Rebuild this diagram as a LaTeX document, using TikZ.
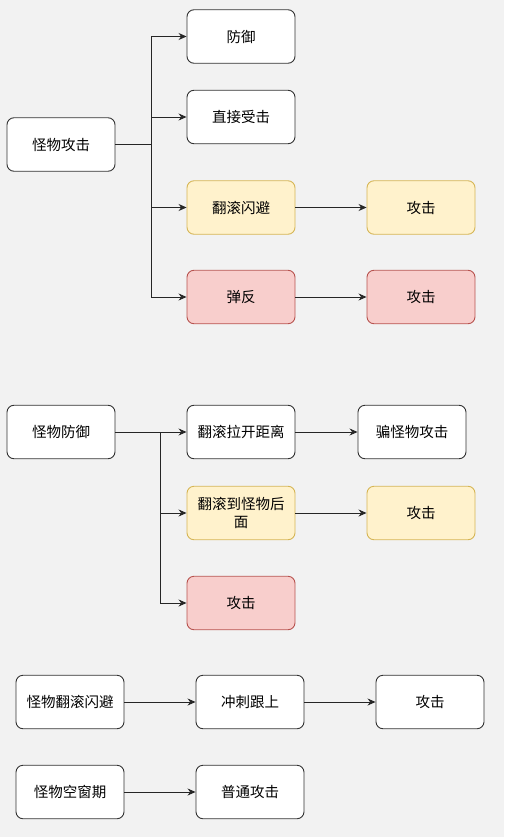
\documentclass[tikz,border=0pt]{standalone}
\usepackage{fontspec}
\setmainfont{Noto Sans CJK SC}
\usetikzlibrary{arrows.meta}
\definecolor{bg}{HTML}{F2F2F2}
\definecolor{edge}{HTML}{333333}
\definecolor{yfill}{HTML}{FFF2CC}
\definecolor{ydraw}{HTML}{D6B656}
\definecolor{rfill}{HTML}{F8CECC}
\definecolor{rdraw}{HTML}{B85450}
\tikzset{
  box/.style={draw=edge, fill=white, rounded corners=7pt, line width=0.9pt,
    minimum width=108pt, minimum height=53.5pt, inner sep=0pt, align=center,
    font=\fontsize{14.5}{18}\selectfont},
  ybox/.style={box, draw=ydraw, fill=yfill},
  rbox/.style={box, draw=rdraw, fill=rfill},
  arr/.style={draw=black!85, line width=0.9pt, -{Stealth[length=8pt,width=7pt]}},
  ln/.style={draw=black!85, line width=0.9pt}
}
\begin{document}
\begin{tikzpicture}[x=1pt,y=-1pt]
\fill[bg] (0,0) rectangle (504,837);
\useasboundingbox (0,0) rectangle (504,837);

% section 1
\node[box]  (A)   at (61,144.5) {怪物攻击};
\node[box]  (b1)  at (241,36.5) {防御};
\node[box]  (b2)  at (241,117) {直接受击};
\node[ybox] (b3)  at (241,207.5) {翻滚闪避};
\node[ybox] (b3a) at (421,207.5) {攻击};
\node[rbox] (b4)  at (241,297) {弹反};
\node[rbox] (b4a) at (421,297) {攻击};
\coordinate (j1) at (151,144.5);
\draw[ln] (A.east) -- (j1);
\draw[arr] (j1) |- (b1.west);
\draw[arr] (j1) |- (b2.west);
\draw[arr] (j1) |- (b3.west);
\draw[arr] (j1) |- (b4.west);
\draw[arr] (b3.east) -- (b3a.west);
\draw[arr] (b4.east) -- (b4a.west);

% section 2
\node[box]  (C)   at (61,432) {怪物防御};
\node[box]  (c1)  at (241,432) {翻滚拉开距离};
\node[box]  (c1a) at (412,432) {骗怪物攻击};
\node[ybox] (c2)  at (241,513) {翻滚到怪物后\\面};
\node[ybox] (c2a) at (421,513) {攻击};
\node[rbox] (c3)  at (241,603) {攻击};
\coordinate (j2) at (160,432);
\draw[ln] (C.east) -- (j2);
\draw[arr] (j2) -- (c1.west);
\draw[arr] (j2) |- (c2.west);
\draw[arr] (j2) |- (c3.west);
\draw[arr] (c1.east) -- (c1a.west);
\draw[arr] (c2.east) -- (c2a.west);

% section 3
\node[box] (D)  at (70,702) {怪物翻滚闪避};
\node[box] (d1) at (250,702) {冲刺跟上};
\node[box] (d2) at (430,702) {攻击};
\node[box] (E)  at (70,792) {怪物空窗期};
\node[box] (e1) at (250,792) {普通攻击};
\draw[arr] (D.east) -- (d1.west);
\draw[arr] (d1.east) -- (d2.west);
\draw[arr] (E.east) -- (e1.west);
\end{tikzpicture}
\end{document}
